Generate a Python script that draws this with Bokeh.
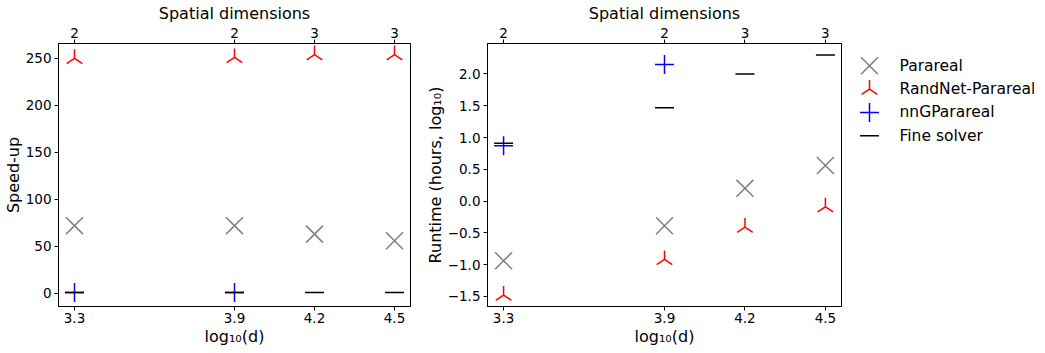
import math
from bokeh.plotting import figure
from bokeh.models import Range1d, FixedTicker, LinearAxis, CustomJSTickFormatter, ColumnDataSource
from bokeh.layouts import row
from bokeh.core.properties import value
from bokeh.embed import file_html
from bokeh.resources import INLINE

# ---- data ----
x_log10_d = [3.3, 3.9, 4.2, 4.5]
spatial_dims = ["2", "2", "3", "3"]
x_nng = [3.3, 3.9]

speedup_parareal = [72, 72, 63, 56]
speedup_randnet = [250, 251, 254, 254]
speedup_nng = [1, 1]
speedup_fine = [1, 1, 1, 1]

runtime_parareal = [-0.94, -0.39, 0.20, 0.56]
runtime_randnet = [-1.48, -0.92, -0.41, -0.09]
runtime_nng = [0.87, 2.15]
runtime_fine = [0.91, 1.47, 2.00, 2.30]

speed_ticks = [0, 50, 100, 150, 200, 250]
runtime_ticks = [-1.5, -1.0, -0.5, 0.0, 0.5, 1.0, 1.5, 2.0]

series_names = ["Parareal", "RandNet-Parareal", "nnGParareal", "Fine solver"]
series_colors = ["#808080", "#ff0000", "#0000ff", "#000000"]
series_markers = ["x", "y", "cross", "dash"]
series_sizes = [24, 18, 19, 19]
series_angles = [0.0, math.pi, 0.0, 0.0]

FONT = "DejaVu Sans"
TICK_FS = "13.5px"
LABEL_FS = "16px"
LEGEND_FS = "15.5px"

FH = 263   # frame height
BT = 33    # top border
BB = 41    # bottom border


def style(p, ylabel, yticks, yfmt):
    p.grid.visible = False
    p.outline_line_color = "#000000"
    p.outline_line_width = 1
    p.background_fill_color = "white"
    p.border_fill_color = "white"
    xa = p.xaxis[0]
    xa.ticker = FixedTicker(ticks=x_log10_d)
    xa.formatter = CustomJSTickFormatter(code="return tick.toFixed(1)")
    xa.axis_label = "log₁₀(d)"
    ya = p.yaxis[0]
    ya.ticker = FixedTicker(ticks=yticks)
    ya.formatter = CustomJSTickFormatter(code=yfmt)
    ya.axis_label = ylabel
    top = LinearAxis(ticker=FixedTicker(ticks=x_log10_d),
                     formatter=CustomJSTickFormatter(args=dict(labels=spatial_dims),
                                                     code="return labels[index]"),
                     axis_label="Spatial dimensions")
    p.add_layout(top, "above")
    for ax in [xa, ya, top]:
        ax.axis_label_text_font = FONT
        ax.axis_label_text_font_size = LABEL_FS
        ax.axis_label_text_font_style = "normal"
        ax.axis_label_text_color = "#000000"
        ax.major_label_text_font = FONT
        ax.major_label_text_font_size = TICK_FS
        ax.major_label_text_color = "#000000"
        ax.minor_tick_line_color = None
        ax.major_tick_in = 0
        ax.major_tick_out = 4
        ax.major_tick_line_color = "#000000"
        ax.axis_line_color = "#000000"
        ax.major_label_standoff = 2
        ax.axis_label_standoff = 2
    xa.major_label_standoff = 2
    xa.axis_label_standoff = 1
    ya.major_label_standoff = 3
    ya.axis_label_standoff = 0


def draw(p, ys, ynng):
    p.scatter(x_log10_d, ys[0], marker="x", size=series_sizes[0],
              line_color=series_colors[0], line_width=1.5)
    p.scatter(x_log10_d, ys[1], marker="y", size=series_sizes[1], angle=math.pi,
              line_color=series_colors[1], line_width=1.5)
    p.scatter(x_nng, ynng, marker="cross", size=series_sizes[2],
              line_color=series_colors[2], line_width=1.5)
    p.scatter(x_log10_d, ys[2], marker="dash", size=series_sizes[3],
              line_color=series_colors[3], line_width=1.5)


p1 = figure(frame_width=352, frame_height=FH, output_backend="svg", toolbar_location=None,
            title=None, x_range=Range1d(3.24, 4.56), y_range=Range1d(-14, 265.8),
            min_border_left=56, min_border_right=12, min_border_top=BT, min_border_bottom=BB)
style(p1, "Speed-up", speed_ticks, "return tick.toFixed(0)")
draw(p1, [speedup_parareal, speedup_randnet, speedup_fine], speedup_nng)

p2 = figure(frame_width=354, frame_height=FH, output_backend="svg", toolbar_location=None,
            title=None, x_range=Range1d(3.24, 4.56), y_range=Range1d(-1.66, 2.48),
            min_border_left=63, min_border_right=12, min_border_top=BT, min_border_bottom=BB)
style(p2, "Runtime (hours, log₁₀)", runtime_ticks,
      "return tick.toFixed(1).replace('-', '\u2212')")
draw(p2, [runtime_parareal, runtime_randnet, runtime_fine], runtime_nng)

# legend panel
LW = 181
ROW = 23.3
top_units = -22.3 / ROW
p3 = figure(frame_width=LW, frame_height=FH, output_backend="svg", toolbar_location=None,
            title=None, x_range=Range1d(0, LW),
            y_range=Range1d(top_units + FH / ROW, top_units),
            x_axis_type=None, y_axis_type=None,
            min_border_left=0, min_border_right=0, min_border_top=BT, min_border_bottom=BB)
p3.grid.visible = False
p3.outline_line_color = None
idx = list(range(len(series_names)))
leg = ColumnDataSource(dict(x=[16] * 4, tx=[46] * 4, y=idx, name=series_names,
                            color=series_colors, marker=series_markers,
                            size=series_sizes, angle=series_angles))
p3.scatter(x="x", y="y", marker="marker", size="size", angle="angle",
           line_color="color", line_width=1.5, source=leg)
p3.text(x="tx", y="y", text="name", source=leg, text_baseline="middle",
        text_font=value(FONT), text_font_size=LEGEND_FS, text_color="#000000")

layout = row(p1, p2, p3)
open("out.html", "w").write(file_html(layout, INLINE))
